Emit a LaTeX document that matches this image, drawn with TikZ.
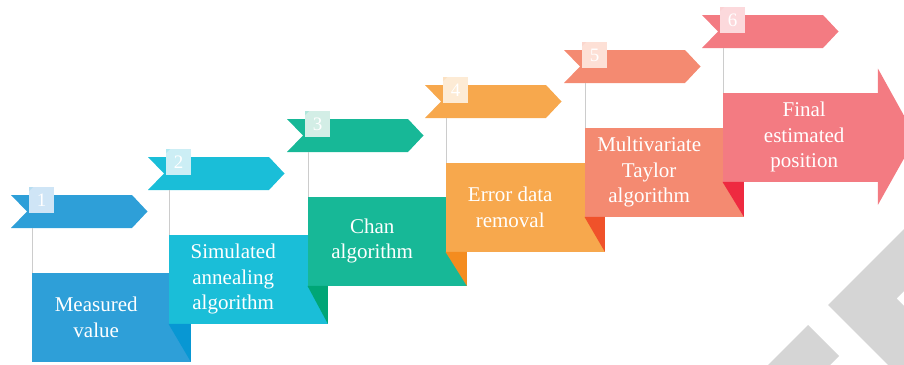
\documentclass[tikz,border=0pt]{standalone}
\usepackage{fontspec}
\setmainfont{Liberation Serif}
\definecolor{ocean}{HTML}{2E9FD8}
\definecolor{oceanpale}{HTML}{CFE5F6}
\definecolor{aqua}{HTML}{1ABED8}
\definecolor{aquadark}{HTML}{0897D3}
\definecolor{aquapale}{HTML}{CCEEF5}
\definecolor{jade}{HTML}{17B897}
\definecolor{jadedark}{HTML}{00A676}
\definecolor{jadepale}{HTML}{D3EEE6}
\definecolor{amber}{HTML}{F7A84D}
\definecolor{amberdark}{HTML}{F48C1F}
\definecolor{amberpale}{HTML}{FDEBD5}
\definecolor{salmon}{HTML}{F48A71}
\definecolor{salmondark}{HTML}{F0522A}
\definecolor{salmonpale}{HTML}{FDE0D6}
\definecolor{rose}{HTML}{F37B82}
\definecolor{rosedark}{HTML}{EE2A40}
\definecolor{rosepale}{HTML}{FCD9DC}
\definecolor{logogray}{HTML}{D5D5D5}
\definecolor{stemgray}{HTML}{CCCCCC}

\begin{document}
\begin{tikzpicture}[x=1pt,y=-1pt,
  stepbox/.style={anchor=north west,inner sep=0pt,minimum height=89pt},
  steptext/.style={text=white,align=center,font=\fontsize{21}{25.5}\selectfont},
  numbox/.style={anchor=north west,inner sep=0pt,minimum width=25pt,minimum height=26pt,text=white,font=\fontsize{19}{19}\selectfont},
  stem/.style={stemgray,line width=1.3pt}]
\useasboundingbox (0,0) rectangle (904,364);
\clip (0,0) rectangle (904,364);
% grey logo in the corner
\fill[logogray] (960,173) -- (828,305) -- (960,437) -- (960,362) -- (896.5,298.5) -- (960,235) -- cycle;
\fill[logogray] (808,325) -- (839,356) -- (775,420) -- (713,420) -- cycle;
\foreach \i/\rx/\ry/\col/\w/\dx/\txt in {
    1/11/195/ocean/159/-15/{Measured\\value},
    2/148/157/aqua/159/-15/{Simulated\\annealing\\algorithm},
    3/287/119/jade/159/-15/{Chan\\algorithm},
    4/425/85/amber/159/-15/{Error data\\removal},
    5/564/50/salmon/159/-15/{Multivariate\\Taylor\\algorithm},
    6/702/15/rose/155/4/{Final\\estimated\\position}}{
  % ribbon with its number
  \fill[\col] (\rx,\ry) -- ++(121,0) -- ++(15.5,16.5) -- ++(-15.5,16.5) -- ++(-121,0) -- ++(16,-16.5) -- cycle;
  \coordinate (rib\i) at (\rx,\ry+33);
  \node[numbox,fill=\col pale] (num\i) at (\rx+18,\ry-8) {\i};
  \fill[\col!35!white] (num\i.north west) -- ++(4,0) -- ++(-4,4) -- cycle;
  % box hanging below
  \node[stepbox,fill=\col,minimum width=\w pt,label={[steptext,xshift=\dx pt]center:\txt}] (box\i) at (\rx+20.5,\ry+77.5) {};
  \draw[stem] ([xshift=1pt]box\i.north west) -- ([xshift=1pt]box\i.north west |- rib\i);
  \ifnum\i>1
    \pgfmathtruncatemacro\j{\i-1}
    \fill[\col dark] (box\i.south west) -- (box\i.south west -| box\j.south east) -- (box\j.south east) -- cycle;
  \fi
}
% arrow head on the last box
\fill[rose] ([yshift=24pt]box6.north east) -- ([xshift=38pt]box6.east) -- ([yshift=-23pt]box6.south east) -- cycle;
\end{tikzpicture}
\end{document}
